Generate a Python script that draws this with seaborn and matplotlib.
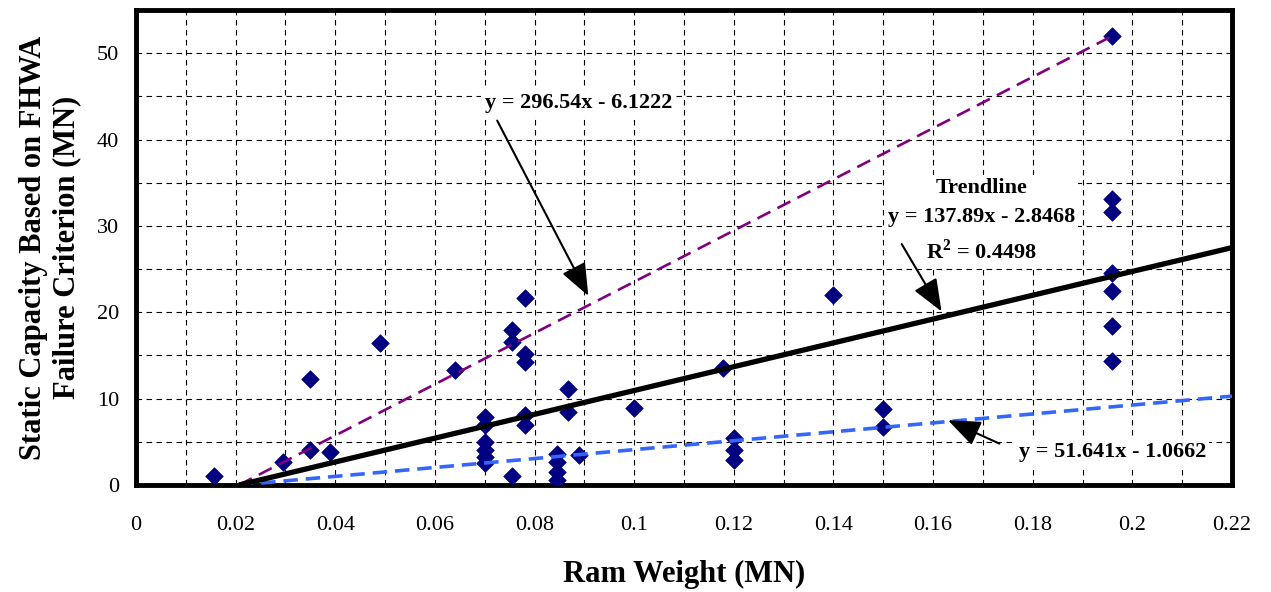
import numpy as np
import pandas as pd
import matplotlib
matplotlib.use("Agg")
import matplotlib.pyplot as plt
from matplotlib.ticker import MultipleLocator
import seaborn as sns

# Measured pile data: ram weight (MN) vs. static capacity (MN)
ram_weight = [0.0157, 0.0295, 0.035, 0.035, 0.039, 0.049, 0.064,
              0.070, 0.070, 0.070, 0.070, 0.070, 0.070,
              0.0755, 0.0755, 0.0755,
              0.078, 0.078, 0.078, 0.078, 0.078,
              0.0845, 0.0845, 0.0845, 0.0845,
              0.0868, 0.0868, 0.089, 0.100, 0.1178,
              0.120, 0.120, 0.120, 0.140, 0.150, 0.150,
              0.196, 0.196, 0.196, 0.196, 0.196, 0.196, 0.196]
capacity = [1.0, 2.7, 4.1, 12.3, 3.8, 16.4, 13.3,
            7.9, 7.0, 5.0, 4.0, 3.3, 2.6,
            18.0, 16.6, 1.1,
            21.7, 15.2, 14.2, 8.1, 7.0,
            3.6, 2.7, 1.5, 0.6,
            11.1, 8.4, 3.5, 8.95, 13.5,
            5.4, 4.1, 2.9, 22.0, 8.8, 6.7,
            52.0, 33.1, 31.6, 24.6, 22.5, 18.4, 14.4]

# Linear fits: y = slope * x + intercept
trend_slope, trend_intercept = 137.89, -2.8468
trend_r2 = 0.4498
upper_slope, upper_intercept = 296.54, -6.1222
lower_slope, lower_intercept = 51.641, -1.0662

x_ticks = [0, 0.02, 0.04, 0.06, 0.08, 0.10, 0.12, 0.14, 0.16, 0.18, 0.20, 0.22]
x_tick_labels = ["0", "0.02", "0.04", "0.06", "0.08", "0.1", "0.12",
                 "0.14", "0.16", "0.18", "0.2", "0.22"]
y_ticks = [0, 10, 20, 30, 40, 50]
y_tick_labels = ["0", "10", "20", "30", "40", "50"]

sns.set_theme(style="white")
plt.rcParams["font.family"] = ["Liberation Serif", "DejaVu Serif"]
plt.rcParams["mathtext.fontset"] = "custom"
plt.rcParams["mathtext.rm"] = "Liberation Serif"
plt.rcParams["mathtext.bf"] = "Liberation Serif:bold"

df = pd.DataFrame({"ram": ram_weight, "cap": capacity})

fig = plt.figure(figsize=(12.71, 5.92), dpi=100)
ax = fig.add_axes([0.107, 0.1807, 0.8623, 0.8024])

sns.scatterplot(data=df, x="ram", y="cap", marker="D", s=80,
                color="#000080", edgecolor="#000080", linewidth=0.5,
                ax=ax, zorder=3, legend=False)


def fit_line(slope, intercept, x_end):
    x0 = -intercept / slope
    xs = np.array([x0, x_end])
    return pd.DataFrame({"x": xs, "y": slope * xs + intercept})


upper = fit_line(upper_slope, upper_intercept, max(ram_weight))
trend = fit_line(trend_slope, trend_intercept, 0.22)
lower = fit_line(lower_slope, lower_intercept, 0.22)

ax.plot(upper["x"], upper["y"], color="#800080", lw=1.9,
        dashes=(5.5, 3), zorder=4)
ax.plot(lower["x"], lower["y"], color="#3366FF", lw=2.6,
        dashes=(4, 2.2), zorder=4)
ax.plot(trend["x"], trend["y"], color="black", lw=3.8,
        solid_capstyle="butt", zorder=4)

ax.set_xlim(0, 0.22)
ax.set_ylim(0, 55)
ax.set_xticks(x_ticks)
ax.set_xticklabels(x_tick_labels)
ax.set_yticks(y_ticks)
ax.set_yticklabels(y_tick_labels)
ax.xaxis.set_minor_locator(MultipleLocator(0.01))
ax.yaxis.set_minor_locator(MultipleLocator(5))
ax.grid(which="both", color="black", linestyle=(0, (5, 4)), linewidth=0.8)
ax.set_axisbelow(True)

ax.tick_params(axis="both", which="major", direction="out", length=7,
               width=1.2, color="black", labelsize=16, labelcolor="black")
ax.tick_params(axis="x", which="major", pad=15)
ax.tick_params(axis="y", which="major", pad=5)
ax.tick_params(which="minor", length=0)

for side in ["left", "right", "top", "bottom"]:
    ax.spines[side].set_visible(True)
    ax.spines[side].set_color("black")
    ax.spines[side].set_linewidth(3.5)

ax.set_xlabel("Ram Weight (MN)", fontsize=22, fontweight="bold", color="black")
ax.set_ylabel("Static Capacity Based on FHWA\nFailure Criterion (MN)",
              fontsize=22, fontweight="bold", color="black")
ax.xaxis.set_label_coords(0.5, -0.157)
ax.yaxis.set_label_coords(-0.050, 0.5)

box = dict(boxstyle="square,pad=0.15", fc="white", ec="none")
label_kw = dict(fontsize=16, fontweight="bold", color="black", zorder=5)

ax.text(0.070, 44.2, f"y = {upper_slope}x - {-upper_intercept}",
        ha="left", va="center", bbox=box, **label_kw)
ax.text(0.1697, 30.6,
        f"Trendline\ny = {trend_slope}x - {-trend_intercept}\n"
        f"R$^\\mathbf{{2}}$ = {trend_r2}",
        ha="center", va="center", linespacing=1.6, bbox=box, **label_kw)
ax.text(0.196, 3.8, f"y = {lower_slope}x - {-lower_intercept}",
        ha="center", va="center", bbox=box, **label_kw)

arrow = dict(arrowstyle="-|>,head_length=0.8,head_width=0.32",
             mutation_scale=25, lw=1.5, color="black",
             shrinkA=0, shrinkB=0)
ax.annotate("", xy=(0.0908, 21.9), xytext=(0.0725, 42.2),
            arrowprops=arrow, zorder=6)
ax.annotate("", xy=(0.1617, 20.1), xytext=(0.1537, 27.9),
            arrowprops=arrow, zorder=6)
ax.annotate("", xy=(0.163, 7.5), xytext=(0.1733, 4.8),
            arrowprops=arrow, zorder=6)

fig.savefig("out.png", dpi=100, facecolor="white")
